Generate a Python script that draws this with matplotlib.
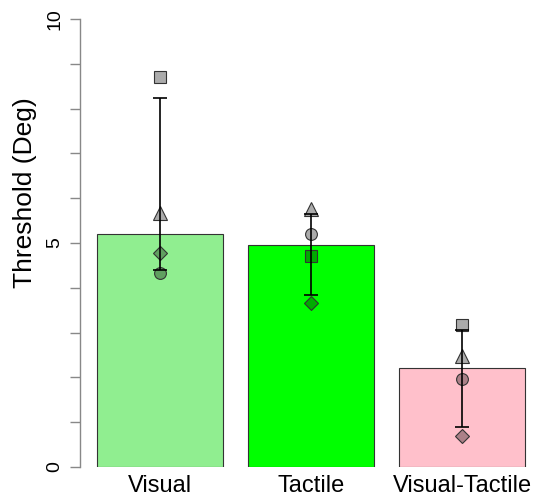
import numpy as np
import matplotlib
matplotlib.use('Agg')
import matplotlib.pyplot as plt

plt.rcParams['font.family'] = ['Liberation Sans', 'DejaVu Sans']

# data
conds = ['Visual', 'Tactile', 'Visual-Tactile']
bar_vals = [5.20, 4.96, 2.21]
bar_cols = ['#90EE90', '#00FF00', '#FFC0CB']
err_lo = [4.40, 3.83, 0.90]
err_hi = [8.24, 5.65, 3.06]
# individual subjects
subj_square = [8.71, 4.72, 3.17]
subj_triangle = [5.67, 5.76, 2.48]
subj_circle = [4.32, 5.20, 1.96]
subj_diamond = [4.77, 3.67, 0.69]

W, H = 540, 498
fig = plt.figure(figsize=(W / 100, H / 100), dpi=100)
# axes placed in pixels
left, right, top, bot = 80, 540, 19, 467
ax = fig.add_axes([left / W, (H - bot) / H, (right - left) / W, (bot - top) / H])

xpos = np.array([0.7, 1.9, 3.1])
ax.bar(xpos, bar_vals, width=1.0, color=bar_cols, edgecolor='#333333', linewidth=0.8, zorder=1)

mk = dict(linestyle='none', markerfacecolor=(0, 0, 0, 0.33), markeredgecolor='#333333',
          markeredgewidth=0.8, zorder=2, clip_on=False)
ax.plot(xpos, subj_square, marker='s', markersize=8, **mk)
ax.plot(xpos, subj_triangle, marker='^', markersize=10.5, **mk)
ax.plot(xpos, subj_circle, marker='o', markersize=8.5, **mk)
ax.plot(xpos, subj_diamond, marker='D', markersize=7.5, **mk)

mid = (np.array(err_lo) + np.array(err_hi)) / 2
half = (np.array(err_hi) - np.array(err_lo)) / 2
ax.errorbar(xpos, mid, yerr=half, fmt='none', ecolor='black', elinewidth=1.2,
            capsize=4.8, capthick=1.2, zorder=3)

ax.set_xlim((left - 71.8) / 126, (right - 71.8) / 126)
ax.set_ylim(0, 10)
for s in ['top', 'right', 'bottom']:
    ax.spines[s].set_visible(False)
ax.spines['left'].set_color('#888888')
ax.spines['left'].set_linewidth(1.0)

ax.set_yticks(range(0, 11))
ax.set_yticklabels([str(v) if v % 5 == 0 else '' for v in range(0, 11)],
                   rotation=90, va='center')
ax.tick_params(axis='y', length=7, width=1.0, color='#888888', pad=5, labelsize=14)
ax.set_xticks(xpos)
ax.set_xticklabels(conds)
ax.tick_params(axis='x', length=0, pad=6, labelsize=17)

fig.text(25 / W, (H - 193) / H, 'Threshold (Deg)', rotation=90, fontsize=19,
         ha='center', va='center')

fig.savefig('out.png', dpi=100)
